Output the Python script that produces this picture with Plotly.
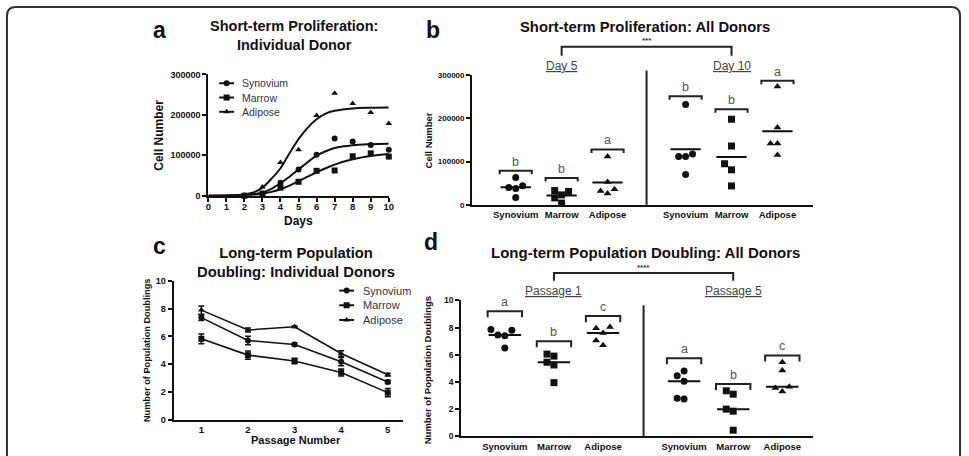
import numpy as np
import plotly.graph_objects as go

# ---------------- data ----------------
# Panel a: short-term proliferation, individual donor
a_days = [2, 3, 4, 5, 6, 7, 8, 9, 10]
a_syn = [0, 6400, 32000, 64800, 101600, 141600, 134400, 125600, 113600]
a_mar = [0, 4000, 20000, 34400, 61600, 62400, 97600, 104800, 96800]
a_adi = [1000, 21600, 82400, 113600, 198400, 253600, 228000, 205600, 178400]
# fitted growth curves
fit_days = [0, 1, 2, 2.5, 3, 3.5, 4, 4.5, 5, 5.5, 6, 6.5, 7, 8, 9, 10]
fit_syn = [0, 200, 1500, 4000, 8000, 17000, 31000, 47000, 65000, 83000, 99000, 110000, 118000, 125000, 127500, 128500]
fit_mar = [0, 150, 1200, 2500, 5000, 9500, 16000, 25000, 36000, 47000, 58000, 68000, 77000, 90000, 98000, 103000]
fit_adi = [0, 300, 3000, 8000, 20000, 42000, 68000, 105000, 140000, 168000, 189000, 203000, 210000, 216000, 217500, 218000]
series_names = ["Synovium", "Marrow", "Adipose"]

# Panel b: short-term proliferation, all donors
b_groups = ["Day 5", "Day 10"]
b_cats = ["Synovium", "Marrow", "Adipose"]
b_vals = [
    [17000, 38000, 40000, 44000, 63000],      # Day 5 Synovium
    [4000, 16000, 23000, 31000, 33000],       # Day 5 Marrow
    [26000, 32000, 36000, 53000, 112000],     # Day 5 Adipose
    [70000, 111500, 111500, 117500, 232000],  # Day 10 Synovium
    [43700, 81000, 95000, 136000, 198000],    # Day 10 Marrow
    [115000, 141700, 141700, 179000, 273500], # Day 10 Adipose
]
b_letters = ["b", "b", "a", "b", "b", "a"]
b_bracket = [79000, 62000, 128000, 251000, 221000, 287000]
b_sig = "***"

# Panel c: long-term population doubling, individual donors
c_passage = [1, 2, 3, 4, 5]
c_syn = [7.35, 5.70, 5.42, 4.18, 2.72]
c_syn_err = [0.2, 0.3, 0.1, 0.3, 0.12]
c_mar = [5.82, 4.65, 4.23, 3.40, 1.95]
c_mar_err = [0.35, 0.3, 0.2, 0.25, 0.3]
c_adi = [7.89, 6.46, 6.69, 4.77, 3.24]
c_adi_err = [0.3, 0.15, 0.05, 0.2, 0.1]

# Panel d: long-term population doubling, all donors
d_groups = ["Passage 1", "Passage 5"]
d_cats = ["Synovium", "Marrow", "Adipose"]
d_vals = [
    [6.5, 7.4, 7.45, 7.8, 7.85],
    [3.95, 5.25, 5.45, 5.9, 6.05],
    [6.7, 7.05, 7.6, 7.95, 8.05],
    [2.75, 2.8, 4.05, 4.45, 4.8],
    [0.45, 1.85, 2.0, 3.1, 3.35],
    [3.3, 3.55, 3.65, 4.85, 5.45],
]
d_letters = ["a", "b", "c", "a", "b", "c"]
d_bracket = [9.2, 7.0, 8.85, 5.75, 3.85, 5.95]
d_sig = "****"

# ---------------- helpers ----------------
W, H = 969, 456
def X(px): return px / W
def Y(py): return 1 - py / H

FONT = "Liberation Sans"
INK = "#111111"
GREY = "#444444"
SYMS = ["circle", "square", "triangle-up"]

def swarm(vals, ppu_y, ppu_x, d=7.0):
    placed, offs = [], [0.0] * len(vals)
    for i in sorted(range(len(vals)), key=lambda k: vals[k]):
        ypx = vals[i] * ppu_y
        xo = 0.0
        for c in [0, -1, 1, -2, 2, -3, 3]:
            xo = c * d
            if all((xo - a) ** 2 + (ypx - b) ** 2 >= d * d for a, b in placed):
                break
        placed.append((xo, ypx))
        offs[i] = xo / ppu_x
    return offs

fig = go.Figure()

def txt(x, y, s, size, bold=True, color=INK, xref="paper", yref="paper", angle=0,
        xanchor="center", yanchor="middle", **kw):
    fig.add_annotation(x=x, y=y, xref=xref, yref=yref, text=s, showarrow=False, textangle=angle,
                       xanchor=xanchor, yanchor=yanchor,
                       font=dict(family=FONT, size=size, color=color, weight="bold" if bold else "normal"), **kw)

# ---------------- panel a ----------------
for vals, fit, sym in [(a_syn, fit_syn, "circle"), (a_mar, fit_mar, "square"), (a_adi, fit_adi, "triangle-up")]:
    fig.add_trace(go.Scatter(x=fit_days, y=fit, mode="lines", line=dict(color=INK, width=2, shape="spline"),
                             showlegend=False, xaxis="x", yaxis="y", hoverinfo="skip", cliponaxis=False))
    fig.add_trace(go.Scatter(x=a_days, y=vals, mode="markers", marker=dict(symbol=sym, size=6, color=INK),
                             showlegend=False, xaxis="x", yaxis="y", cliponaxis=False))

# ---------------- panels b & d (dot plots) ----------------
def dot_panel(xa, ya, vals, letters, brackets, pos, ppu_x, ppu_y, stat, leg):
    for i, v in enumerate(vals):
        offs = swarm(v, ppu_y, ppu_x)
        sym = SYMS[i % 3]
        fig.add_trace(go.Scatter(x=[pos[i] + o for o in offs], y=v, mode="markers",
                                 marker=dict(symbol=sym, size=7, color=INK), showlegend=False,
                                 xaxis=xa, yaxis=ya, cliponaxis=False))
        m = stat(v)
        fig.add_trace(go.Scatter(x=[pos[i] - 0.33, pos[i] + 0.33], y=[m, m], mode="lines",
                                 line=dict(color=INK, width=2), showlegend=False,
                                 xaxis=xa, yaxis=ya, hoverinfo="skip", cliponaxis=False))
        h = brackets[i]
        hw = 0.35
        fig.add_shape(type="path", xref=xa, yref=ya,
                      path=f"M {pos[i]-hw},{h-leg} L {pos[i]-hw},{h} L {pos[i]+hw},{h} L {pos[i]+hw},{h-leg}",
                      line=dict(color="#222", width=2))
        fig.add_annotation(x=pos[i], y=h, xref=xa, yref=ya, text=letters[i], showarrow=False,
                           xanchor="center", yanchor="bottom", yshift=0,
                           font=dict(family=FONT, size=12.5, color="#555"))

pos_b = [1, 2, 3, 4.7, 5.7, 6.7]
pos_d = [1, 2, 3, 4.65, 5.65, 6.65]
dot_panel("x2", "y2", b_vals, b_letters, b_bracket, pos_b, 46.3, 132.6 / 300000, np.mean, 8000)
dot_panel("x4", "y4", d_vals, d_letters, d_bracket, pos_d, 49.5, 13.9, np.median, 0.45)

# ---------------- panel c ----------------
for vals, err, sym in [(c_syn, c_syn_err, "circle"), (c_mar, c_mar_err, "square"), (c_adi, c_adi_err, "triangle-up")]:
    fig.add_trace(go.Scatter(x=c_passage, y=vals, mode="lines+markers", showlegend=False,
                             line=dict(color=INK, width=1.6), marker=dict(symbol=sym, size=6, color=INK),
                             error_y=dict(type="data", array=err, visible=True, color=INK, thickness=1.5, width=3),
                             xaxis="x3", yaxis="y3", cliponaxis=False))

# ---------------- legend keys (drawn on a pixel overlay axis) ----------------
def legend_block(x_line, x_text, y_first, step, size):
    for i, (name, sym) in enumerate(zip(series_names, SYMS)):
        yy = y_first + i * step
        fig.add_shape(type="line", xref="x5", yref="y5", x0=x_line, x1=x_line + 15, y0=yy, y1=yy,
                      line=dict(color=INK, width=2))
        fig.add_trace(go.Scatter(x=[x_line + 7.5], y=[yy], mode="markers", xaxis="x5", yaxis="y5",
                                 marker=dict(symbol=sym, size=6, color=INK), showlegend=False,
                                 hoverinfo="skip", cliponaxis=False))
        txt(x_text, yy, name, size, bold=False, color="#333", xref="x5", yref="y5", xanchor="left")

legend_block(218, 239, 80, 14.6, 10.5)
legend_block(339, 361, 292, 15, 11)

# ---------------- axes ----------------
def ax(domain, rng, anchor, size, **kw):
    d = dict(domain=domain, range=rng, anchor=anchor, showline=True, linecolor=INK, linewidth=2,
             showgrid=False, zeroline=False, ticks="outside", ticklen=4, tickwidth=2, tickcolor=INK,
             tickfont=dict(family=FONT, size=size, color=INK, weight="bold"))
    d.update(kw)
    return d

fig.update_layout(
    width=W, height=H, autosize=False, margin=dict(l=0, r=0, t=0, b=0),
    paper_bgcolor="white", plot_bgcolor="rgba(0,0,0,0)", showlegend=False,
    xaxis=ax([X(207), X(389)], [0, 10], "y", 9.5, tickvals=list(range(11)), ticklabelstandoff=-3),
    yaxis=ax([Y(195), Y(71)], [0, 300000], "x", 9, tickvals=[0, 100000, 200000, 300000], tickformat="d"),
    xaxis2=ax([X(473), X(817)], [0.05, 7.48], "y2", 9.5, ticks="", tickvals=pos_b, ticktext=b_cats * 2),
    yaxis2=ax([Y(204.3), Y(71.7)], [0, 300000], "x2", 8, tickvals=[0, 100000, 200000, 300000], tickformat="d"),
    xaxis3=ax([X(172), X(403)], [0.404, 5.32], "y3", 9.5, ticks="", tickvals=c_passage),
    yaxis3=ax([Y(424), Y(282)], [0, 10], "x3", 9, tickvals=[0, 2, 4, 6, 8, 10]),
    xaxis4=ax([X(462), X(817)], [0.111, 7.28], "y4", 9.5, ticks="", tickvals=pos_d, ticktext=d_cats * 2),
    yaxis4=ax([Y(441), Y(302)], [0, 10], "x4", 8.5, tickvals=[0, 2, 4, 6, 8, 10]),
    xaxis5=dict(domain=[0, 1], range=[0, W], visible=False, anchor="y5", fixedrange=True),
    yaxis5=dict(domain=[0, 1], range=[H, 0], visible=False, anchor="x5", fixedrange=True),
)

# ---------------- text ----------------
# panel letters
txt(X(158), Y(26), "a", 23)
txt(X(434), Y(26), "b", 23)
txt(X(158), Y(246), "c", 23)
txt(X(432), Y(242), "d", 23)
# titles
txt(X(293), Y(31.5), "Short-term Proliferation:<br>Individual Donor", 14.5)
txt(X(647), Y(22), "Short-term Proliferation: All Donors", 14.8)
txt(X(295), Y(263), "Long-term Population<br>Doubling: Individual Donors", 14.8)
txt(X(648), Y(253), "Long-term Population Doubling: All Donors", 15)
# axis titles
txt(X(157), Y(133), "Cell Number", 12, angle=-90)
txt(X(298), Y(221), "Days", 12)
txt(X(430), Y(138), "Cell Number", 9.5, angle=-90)
txt(X(145), Y(353), "Number of Population Doublings", 9.2, angle=-90)
txt(X(295), Y(445), "Passage Number", 11)
txt(X(428), Y(373), "Number of Population Doublings", 9.5, angle=-90)

# group labels and top significance brackets
for xa, pos, groups, ylab, ytop, ybot, sig, ysig, top, bot in [
        ("x2", pos_b, b_groups, 62, 42.7, 52, b_sig, 36, 67, 204.3),
        ("x4", pos_d, d_groups, 292, 274, 282, d_sig, 268, 307, 441)]:
    m1, m2 = pos[1], pos[4]
    txt(m1, Y(ylab), f"<u>{groups[0]}</u>", 12, bold=False, color=GREY, xref=xa)
    txt(m2, Y(ylab), f"<u>{groups[1]}</u>", 12, bold=False, color=GREY, xref=xa)
    fig.add_shape(type="path", xref=xa, yref="paper",
                  path=f"M {m1},{Y(ybot)} L {m1},{Y(ytop)} L {m2},{Y(ytop)} L {m2},{Y(ybot)}",
                  line=dict(color="#222", width=2))
    txt((m1 + m2) / 2, Y(ysig), sig, 8, color="#333", xref=xa)
    div = (pos[2] + pos[3]) / 2
    fig.add_shape(type="line", xref=xa, yref="paper", x0=div, x1=div, y0=Y(bot), y1=Y(top),
                  line=dict(color="#222", width=2))

# outer rounded frame (open at the bottom)
r = 9
x0, x1, yt = 4, 965, 2
fig.add_shape(type="path", xref="paper", yref="paper",
              path=(f"M {X(x0)},{Y(H + 5)} L {X(x0)},{Y(yt + r)} Q {X(x0)},{Y(yt)} {X(x0 + r)},{Y(yt)} "
                    f"L {X(x1 - r)},{Y(yt)} Q {X(x1)},{Y(yt)} {X(x1)},{Y(yt + r)} L {X(x1)},{Y(H + 5)}"),
              line=dict(color="#333", width=2))

fig.write_html("out.html")
